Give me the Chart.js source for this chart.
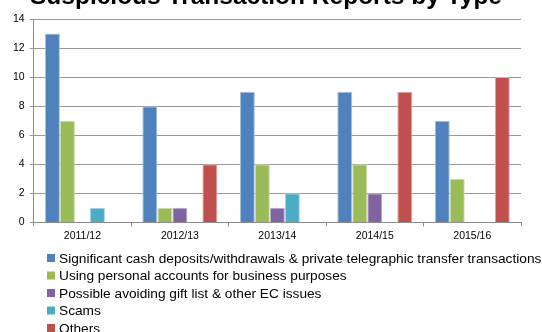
<!DOCTYPE html>
<html>
<head>
<meta charset="utf-8">
<style>
  html, body { margin: 0; padding: 0; background: #fff; }
  #wrap { position: relative; width: 542px; height: 332px; }
</style>
<script src="https://cdn.jsdelivr.net/npm/chart.js@4/dist/chart.umd.min.js"></script>
</head>
<body>
<div id="wrap"><canvas id="str-chart" width="542" height="332"></canvas></div>
<script>
const chartTitle = "Suspicious Transaction Reports by Type";
const years = ["2011/12", "2012/13", "2013/14", "2014/15", "2015/16"];
const seriesNames = [
  "Significant cash deposits/withdrawals & private telegraphic transfer transactions",
  "Using personal accounts for business purposes",
  "Possible avoiding gift list & other EC issues",
  "Scams",
  "Others",
];
const cashTransfers = [13, 8, 9, 9, 7];
const personalAccounts = [7, 1, 4, 4, 3];
const giftList = [0, 1, 1, 2, 0];
const scams = [1, 0, 2, 0, 0];
const others = [0, 4, 0, 9, 10];
const seriesColors = ["#4f81bd", "#9bbb59", "#8064a2", "#4bacc6", "#c0504d"];
const edgeColors = ["#a9c1df", "#cbdcac", "#bfb1d0", "#a5d5e2", "#e0a8a6"];

const values = [cashTransfers, personalAccounts, giftList, scams, others];

// title sits partly above the canvas, legend is a plain left-aligned list
const extras = {
  id: "extras",
  afterDraw(chart) {
    const ctx = chart.ctx;
    ctx.save();
    ctx.fillStyle = "#000";
    ctx.font = "bold 24.5px 'Liberation Sans', Arial, sans-serif";
    ctx.textAlign = "center";
    ctx.textBaseline = "alphabetic";
    ctx.fillText(chartTitle, 266, 4);

    ctx.font = "13.7px 'Liberation Sans', Arial, sans-serif";
    ctx.textAlign = "left";
    ctx.textBaseline = "middle";
    chart.data.datasets.forEach((ds, i) => {
      const y = 258 + i * 17.5;
      ctx.fillStyle = ds.backgroundColor;
      ctx.fillRect(47, y - 4, 8, 8);
      ctx.fillStyle = "#000";
      ctx.fillText(ds.label, 59, y + 1);
    });
    ctx.restore();
  },
};

new Chart(document.getElementById("str-chart"), {
  type: "bar",
  data: {
    labels: years,
    datasets: seriesNames.map((name, i) => ({
      label: name,
      data: values[i],
      backgroundColor: seriesColors[i],
      borderColor: edgeColors[i],
      borderWidth: c => (c.raw ? 1 : 0),
      borderSkipped: "bottom",
      barPercentage: 1,
      categoryPercentage: 0.77,
    })),
  },
  options: {
    responsive: false,
    animation: false,
    layout: { padding: { top: 19, left: 8, right: 21, bottom: 87 } },
    plugins: {
      legend: { display: false },
      title: { display: false },
      tooltip: { enabled: false },
    },
    scales: {
      x: {
        grid: {
          offset: true,
          drawOnChartArea: false,
          drawTicks: true,
          tickLength: 4,
          color: "#8c8c8c",
        },
        border: { color: "#8c8c8c" },
        ticks: {
          color: "#000",
          font: { family: "'Liberation Sans', Arial, sans-serif", size: 10.5 },
          padding: 3,
        },
      },
      y: {
        min: 0,
        max: 14,
        ticks: {
          stepSize: 2,
          color: "#000",
          font: { family: "'Liberation Sans', Arial, sans-serif", size: 10.5 },
          padding: 5,
        },
        grid: { color: "#999999", tickLength: 4 },
        border: { color: "#8c8c8c" },
      },
    },
  },
  plugins: [extras],
});
</script>
</body>
</html>
